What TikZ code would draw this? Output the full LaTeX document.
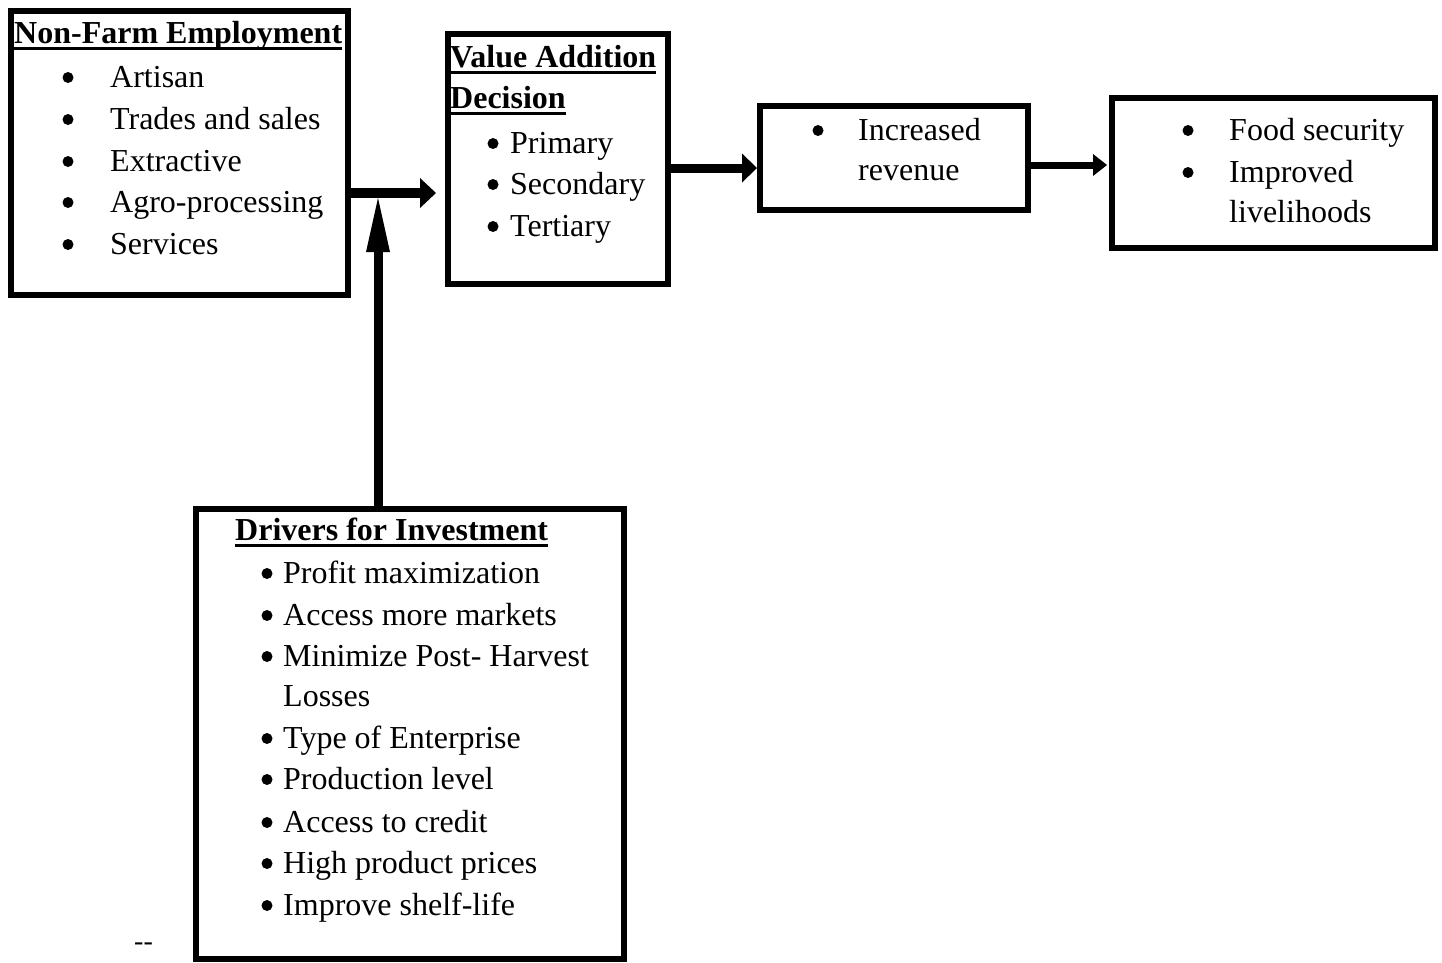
\documentclass[tikz,border=0pt]{standalone}
\usepackage{fontspec}
\setmainfont{Liberation Serif}
\usetikzlibrary{arrows.meta}
\newcommand\myul[1]{\setbox0\hbox{\bfseries #1}\rlap{\vrule width\wd0 height -3.5pt depth 6.5pt}\box0}
\tikzset{
  box/.style={draw=black, line width=6pt, rectangle, inner sep=0pt},
  txt/.style={anchor=base west, inner sep=0pt, font=\fontsize{32}{40}\selectfont},
  bul/.style={circle, fill=black, inner sep=0pt, minimum size=11pt, yshift=9.5pt},
  conn/.style={draw=black}
}
\begin{document}
\begin{tikzpicture}[x=1pt,y=1pt]
\useasboundingbox (0,0) rectangle (1442,-962);
% boxes
\node[box, minimum width=337pt, minimum height=284pt] (b1) at (179.5,-153) {};
\node[box, minimum width=220pt, minimum height=250pt] (b2) at (558,-159) {};
\node[box, minimum width=268pt, minimum height=104pt] (b3) at (894,-158) {};
\node[box, minimum width=323pt, minimum height=150pt] (b4) at (1273.5,-173) {};
\node[box, minimum width=428pt, minimum height=450pt] (b5) at (410,-734) {};
% box 1 text
\node[txt] (t1) at (14,-43) {\myul{Non-Farm Employment}};
\node[bul] (t1b1) at (68,-87) {};  \node[txt] (t1a) at (110,-87) {Artisan};
\node[bul] (t1b2) at (68,-129) {}; \node[txt] (t1c) at (110,-129) {Trades and sales};
\node[bul] (t1b3) at (68,-171) {}; \node[txt] (t1d) at (110,-171) {Extractive};
\node[bul] (t1b4) at (68,-212) {}; \node[txt] (t1e) at (110,-212) {Agro-processing};
\node[bul] (t1b5) at (68,-254) {}; \node[txt] (t1f) at (110,-254) {Services};
% box 2 text
\node[txt] (t2) at (450,-67) {\myul{Value Addition}};
\node[txt] (t2b) at (450,-108) {\myul{Decision}};
\node[bul] (t2b1) at (493,-153) {}; \node[txt] (t2c) at (510,-153) {Primary};
\node[bul] (t2b2) at (493,-194) {}; \node[txt] (t2d) at (510,-194) {Secondary};
\node[bul] (t2b3) at (493,-236) {}; \node[txt] (t2e) at (510,-236) {Tertiary};
% box 3 text
\node[bul] (t3b1) at (818,-140) {}; \node[txt] (t3a) at (858,-140) {Increased};
\node[txt] (t3b) at (858,-180) {revenue};
% box 4 text
\node[bul] (t4b1) at (1188,-140) {}; \node[txt] (t4a) at (1229,-140) {Food security};
\node[bul] (t4b2) at (1188,-182) {}; \node[txt] (t4b) at (1229,-182) {Improved};
\node[txt] (t4c) at (1229,-222) {livelihoods};
% box 5 text
\node[txt] (t5) at (235,-540) {\myul{Drivers for Investment}};
\node[bul] (t5b1) at (267,-583) {}; \node[txt] (t5a) at (283,-583) {Profit maximization};
\node[bul] (t5b2) at (267,-625) {}; \node[txt] (t5c) at (283,-625) {Access more markets};
\node[bul] (t5b3) at (267,-666) {}; \node[txt] (t5d) at (283,-666) {Minimize Post- Harvest};
\node[txt] (t5e) at (283,-706) {Losses};
\node[bul] (t5b4) at (267,-748) {}; \node[txt] (t5f) at (283,-748) {Type of Enterprise};
\node[bul] (t5b5) at (267,-789) {}; \node[txt] (t5g) at (283,-789) {Production level};
\node[bul] (t5b6) at (267,-832) {}; \node[txt] (t5h) at (283,-832) {Access to credit};
\node[bul] (t5b7) at (267,-873) {}; \node[txt] (t5i) at (283,-873) {High product prices};
\node[bul] (t5b8) at (267,-915) {}; \node[txt] (t5j) at (283,-915) {Improve shelf-life};
% stray dashes
\node[anchor=base west, inner sep=0pt, font=\fontsize{28}{34}\selectfont] (dd) at (134,-950) {-{}-};
% connectors
\coordinate (j) at (378,-193);
\coordinate (k) at (0,-168);
\coordinate (m) at (0,-165);
\draw[conn, line width=10pt, -{Triangle[length=16pt,width=30pt,line width=0pt]}, shorten >=9pt]
  (b1.east |- j) -- (b2.west |- j);
\draw[conn, line width=9pt, -{Triangle[length=54pt,width=24pt,line width=0pt]}, shorten >=5pt]
  (b5.north -| j) -- (j);
\draw[conn, line width=9pt, -{Triangle[length=15pt,width=29pt,line width=0pt]}]
  (b2.east |- k) -- (b3.west |- k);
\draw[conn, line width=7pt, -{Triangle[length=14pt,width=22pt,line width=0pt]}, shorten >=2pt]
  (b3.east |- m) -- (b4.west |- m);
\end{tikzpicture}
\end{document}
